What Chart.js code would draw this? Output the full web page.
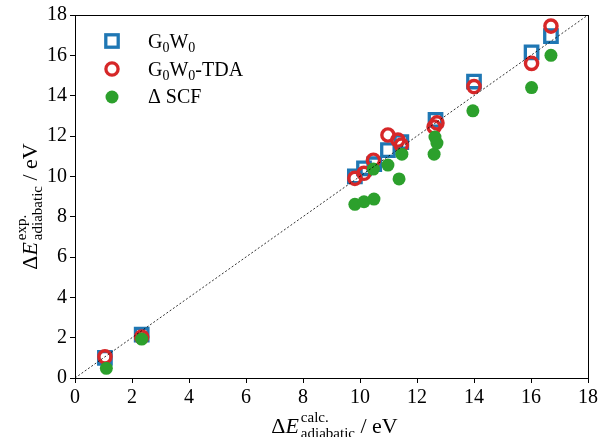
<!DOCTYPE html>
<html>
<head>
<meta charset="utf-8">
<script src="https://cdn.jsdelivr.net/npm/chart.js@4/dist/chart.umd.min.js"></script>
<style>
  html, body { margin: 0; padding: 0; background: #fff; }
</style>
</head>
<body>
<canvas id="chart" width="608" height="437"></canvas>
<script>
// G0W0 (calc, exp) pairs
const g0w0X = [1.05, 2.34, 9.82, 10.14, 10.50, 10.98, 11.45, 12.65, 14.00, 16.02, 16.70];
const g0w0Y = [1.00, 2.15, 10.00, 10.40, 10.60, 11.30, 11.70, 12.80, 14.70, 16.15, 16.95];

// G0W0-TDA
const tdaX = [1.05, 2.34, 9.82, 10.14, 10.47, 10.98, 11.33, 11.45, 12.60, 12.70, 14.00, 16.02, 16.70];
const tdaY = [1.05, 2.03, 9.90, 10.15, 10.80, 12.05, 11.80, 11.55, 12.45, 12.65, 14.45, 15.60, 17.45];

// Delta SCF
const scfX = [1.10, 2.34, 9.82, 10.14, 10.49, 10.47, 10.98, 11.37, 11.47, 12.60, 12.63, 12.70, 13.96, 16.02, 16.70];
const scfY = [0.48, 1.93, 8.61, 8.74, 8.87, 10.36, 10.56, 9.87, 11.10, 11.10, 11.95, 11.65, 13.25, 14.40, 16.00];

const diagX = [0, 18];
const diagY = [0, 18];

const axisMin = 0, axisMax = 18, tickStep = 2;

const BLUE = '#1f77b4', RED = '#d62728', GREEN = '#2ca02c';
const SERIF = '"Liberation Serif", "DejaVu Serif", serif';

const pts = (xs, ys) => xs.map((x, i) => ({ x: x, y: ys[i] }));

// draws  ΔE^{sup}_{sub} / eV  starting at (0,0) centred horizontally
function drawEnergyLabel(ctx, sup, sub) {
  const big = '22px ' + SERIF, bigIt = 'italic 22px ' + SERIF, small = '15px ' + SERIF;
  ctx.font = big; const wD = ctx.measureText('\u0394').width;
  ctx.font = bigIt; const wE = ctx.measureText('E').width;
  ctx.font = small; const wS = Math.max(ctx.measureText(sup).width, ctx.measureText(sub).width);
  ctx.font = big; const wT = ctx.measureText(' / eV').width;
  let x = -(wD + wE + 2 + wS + wT) / 2;
  ctx.textAlign = 'left';
  ctx.textBaseline = 'alphabetic';
  ctx.font = big; ctx.fillText('\u0394', x, 0); x += wD;
  ctx.font = bigIt; ctx.fillText('E', x, 0); x += wE + 2;
  ctx.font = small; ctx.fillText(sup, x, -11); ctx.fillText(sub, x, 5); x += wS;
  ctx.font = big; ctx.fillText(' / eV', x, 0);
}

// G_0 W_0 style text
function drawSubText(ctx, parts, x, y) {
  parts.forEach(p => {
    ctx.font = (p.sub ? '14px ' : '20px ') + SERIF;
    ctx.fillText(p.t, x, y + (p.sub ? 4 : 0));
    x += ctx.measureText(p.t).width;
  });
}

const decorPlugin = {
  id: 'decor',
  afterDraw(chart) {
    const ctx = chart.ctx, a = chart.chartArea;
    ctx.save();
    ctx.strokeStyle = '#000';
    ctx.lineWidth = 1;
    ctx.strokeRect(Math.round(a.left) + 0.5, Math.round(a.top) + 0.5,
                   Math.round(a.right - a.left), Math.round(a.bottom - a.top));
    ctx.fillStyle = '#000';

    // axis titles
    ctx.save();
    ctx.translate((a.left + a.right) / 2 + 3, 433);
    drawEnergyLabel(ctx, 'calc.', 'adiabatic');
    ctx.restore();
    ctx.save();
    ctx.translate(37, (a.top + a.bottom) / 2 + 10);
    ctx.rotate(-Math.PI / 2);
    drawEnergyLabel(ctx, 'exp.', 'adiabatic');
    ctx.restore();

    // legend
    const lx = 112, tx = 148;
    ctx.lineWidth = 3.3;
    ctx.strokeStyle = BLUE;
    ctx.strokeRect(lx - 6.2, 41 - 6.2, 12.4, 12.4);
    ctx.strokeStyle = RED;
    ctx.beginPath(); ctx.arc(lx, 69, 6.1, 0, Math.PI * 2); ctx.stroke();
    ctx.fillStyle = GREEN;
    ctx.beginPath(); ctx.arc(lx, 97, 6.5, 0, Math.PI * 2); ctx.fill();
    ctx.fillStyle = '#000';
    ctx.textAlign = 'left';
    ctx.textBaseline = 'alphabetic';
    drawSubText(ctx, [{t: 'G'}, {t: '0', sub: true}, {t: 'W'}, {t: '0', sub: true}], tx, 48);
    drawSubText(ctx, [{t: 'G'}, {t: '0', sub: true}, {t: 'W'}, {t: '0', sub: true}, {t: '-TDA'}], tx, 76);
    drawSubText(ctx, [{t: '\u0394 SCF'}], tx, 103);
    ctx.restore();
  }
};

const axisCommon = {
  type: 'linear',
  min: axisMin,
  max: axisMax,
  ticks: { stepSize: tickStep, color: '#000', font: { family: SERIF, size: 20 }, padding: 3 },
  grid: { display: true, drawOnChartArea: false, drawTicks: true, tickLength: 5, color: '#000' },
  border: { display: true, color: '#000', width: 1 }
};

new Chart(document.getElementById('chart').getContext('2d'), {
  type: 'scatter',
  data: {
    datasets: [
      {
        type: 'line',
        label: 'diag',
        data: pts(diagX, diagY),
        borderColor: '#000',
        borderWidth: 0.8,
        borderDash: [2, 2],
        pointRadius: 0,
        fill: false,
        order: -1
      },
      {
        label: 'G0W0',
        data: pts(g0w0X, g0w0Y),
        pointStyle: 'rect',
        pointRadius: 8.8,
        borderColor: BLUE,
        backgroundColor: 'rgba(255,255,255,0)',
        borderWidth: 3.3,
        order: 3
      },
      {
        label: 'G0W0-TDA',
        data: pts(tdaX, tdaY),
        pointStyle: 'circle',
        pointRadius: 6.1,
        borderColor: RED,
        backgroundColor: 'rgba(255,255,255,0)',
        borderWidth: 3.4,
        order: 2
      },
      {
        label: 'Delta SCF',
        data: pts(scfX, scfY),
        pointStyle: 'circle',
        pointRadius: 6.5,
        borderWidth: 0,
        backgroundColor: GREEN,
        borderColor: GREEN,
        order: 1
      }
    ]
  },
  options: {
    responsive: false,
    animation: false,
    layout: { padding: { left: 0, right: 20, top: 15, bottom: 0 } },
    plugins: { legend: { display: false }, tooltip: { enabled: false } },
    elements: { point: { hoverRadius: 6 } },
    scales: {
      x: Object.assign({}, axisCommon, {
        afterFit(scale) { scale.height = 59; }
      }),
      y: Object.assign({}, axisCommon, {
        afterFit(scale) { scale.width = 75; }
      })
    }
  },
  plugins: [decorPlugin]
});
</script>
</body>
</html>
